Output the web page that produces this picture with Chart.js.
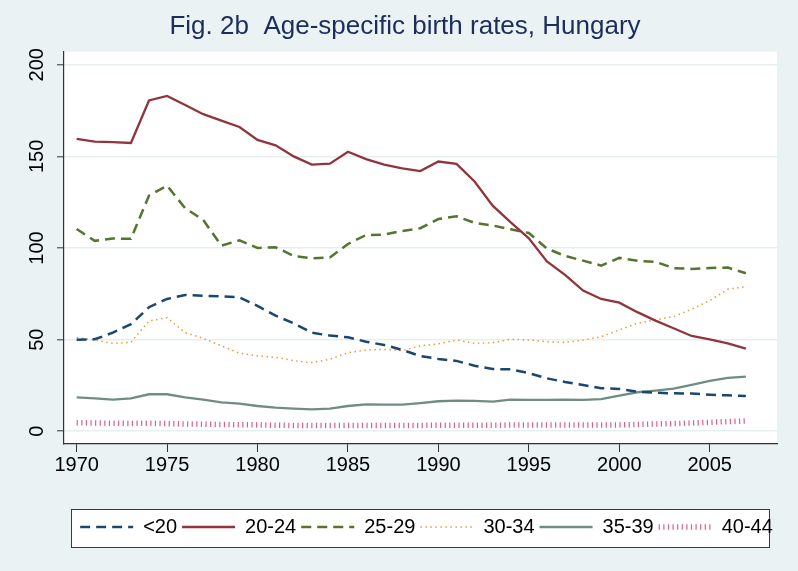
<!DOCTYPE html>
<html>
<head>
<meta charset="utf-8">
<script src="https://cdn.jsdelivr.net/npm/chart.js@4/dist/chart.umd.min.js"></script>
<style>
  html, body { margin: 0; padding: 0; background: #eaf2f3; }
  #wrap { width: 798px; height: 571px; }
</style>
</head>
<body>
<div id="wrap"><canvas id="c" width="798" height="571"></canvas></div>
<script>
const years = [1970,1971,1972,1973,1974,1975,1976,1977,1978,1979,
               1980,1981,1982,1983,1984,1985,1986,1987,1988,1989,
               1990,1991,1992,1993,1994,1995,1996,1997,1998,1999,
               2000,2001,2002,2003,2004,2005,2006,2007];
const seriesNames = ['<20','20-24','25-29','30-34','35-39','40-44'];
const ageUnder20 = [50.0,50.2,53.8,58.4,67.7,72.2,74.4,74.0,73.6,73.1,
                    68.4,63.1,58.9,53.8,52.2,51.3,48.9,47.1,44.4,41.1,
                    39.5,38.4,35.8,34.0,33.8,31.7,28.9,26.9,25.3,23.5,
                    23.1,21.6,21.1,20.7,20.6,20.0,19.6,19.3];
const age20to24 = [159.5,158.0,157.8,157.3,180.5,183.0,178.0,173.0,169.5,166.0,
                   159.0,156.0,150.0,145.5,146.0,152.5,148.5,145.5,143.5,142.0,
                   147.2,145.9,136.3,123.1,114.0,105.3,92.7,85.3,76.8,72.2,
                   70.2,65.0,60.4,56.2,52.0,50.2,48.0,45.1];
const age25to29 = [110.4,103.9,105.2,105.0,128.6,134.0,121.7,115.3,101.3,104.2,
                   100.0,100.4,95.7,94.4,94.8,102.2,107.1,107.3,109.3,110.8,
                   115.8,117.3,113.7,112.3,110.2,108.2,99.7,95.7,93.1,90.4,
                   94.6,93.0,92.5,89.0,88.6,89.1,89.3,86.2];
const age30to34 = [51.1,49.8,48.0,48.5,60.2,62.0,53.8,50.7,46.6,42.6,
                   41.1,40.4,38.5,37.5,39.3,42.9,44.4,44.7,44.0,46.6,
                   47.7,49.8,48.0,48.4,50.2,49.8,48.9,48.5,49.8,51.6,
                   55.3,58.9,60.8,62.6,66.6,71.3,77.5,78.9];
const age35to39 = [18.5,18.0,17.3,18.0,20.2,20.2,18.5,17.3,15.8,15.1,
                   13.8,12.9,12.4,12.0,12.4,13.8,14.7,14.5,14.5,15.4,
                   16.4,16.7,16.6,16.2,17.3,17.1,17.1,17.3,17.1,17.6,
                   19.4,21.3,22.2,23.3,25.3,27.5,29.1,29.8];
const age40to44 = [4.7,4.5,4.4,4.3,4.4,4.2,4.0,3.9,3.7,3.6,
                   3.5,3.3,3.2,3.1,3.1,3.2,3.2,3.2,3.2,3.2,
                   3.3,3.3,3.3,3.3,3.4,3.4,3.4,3.4,3.4,3.4,
                   3.5,3.7,4.0,4.2,4.5,4.9,5.3,5.6];
const xTickValues = [1970,1975,1980,1985,1990,1995,2000,2005];
const yTickValues = [0,50,100,150,200];
const titleText = 'Fig. 2b  Age-specific birth rates, Hungary';

const FONT = '"Liberation Sans", Arial, Helvetica, sans-serif';
const toPts = arr => years.map((yr, i) => ({x: yr, y: arr[i]}));

const styles = [
  {color:'#1a476f', width:2.5, dash:[10,6]},
  {color:'#90353b', width:2.3, dash:[]},
  {color:'#55752f', width:2.5, dash:[10,6]},
  {color:'#eb9a3c', width:1.5, dash:[1.5,3.5]},
  {color:'#6e8e84', width:2.3, dash:[]},
  {color:'rgba(200,30,80,0.7)', width:5.5, dash:[1.2,3.4]}
];
const allSeries = [ageUnder20, age20to24, age25to29, age30to34, age35to39, age40to44];

const datasets = allSeries.map((arr, i) => ({
  label: seriesNames[i],
  data: toPts(arr),
  borderColor: styles[i].color,
  backgroundColor: styles[i].color,
  borderWidth: styles[i].width,
  borderDash: styles[i].dash,
  borderCapStyle: 'butt',
  pointRadius: 0,
  pointHoverRadius: 0,
  tension: 0,
  fill: false
}));

const bgPlugin = {
  id: 'bgPlugin',
  beforeDraw(chart) {
    const {ctx, chartArea: a, legend} = chart;
    ctx.save();
    ctx.fillStyle = '#eaf2f3';
    ctx.fillRect(0, 0, chart.width, chart.height);
    ctx.fillStyle = '#ffffff';
    ctx.fillRect(a.left, a.top, a.right - a.left, a.bottom - a.top);
    const lx = a.left + 7, rx = a.right - 8, ty = legend.top - 3, by = legend.bottom;
    ctx.fillRect(lx, ty, rx - lx, by - ty);
    ctx.strokeStyle = '#3a3a3a';
    ctx.lineWidth = 1;
    ctx.strokeRect(Math.round(lx) + 0.5, Math.round(ty) + 0.5, Math.round(rx - lx), Math.round(by - ty));
    ctx.restore();
  }
};
const legendShift = {
  id: 'legendShift',
  afterLayout(chart) {
    chart.legend.left += 6;
    chart.legend.right += 6;
  }
};

new Chart(document.getElementById('c'), {
  type: 'line',
  data: { datasets },
  plugins: [bgPlugin, legendShift],
  options: {
    responsive: false,
    animation: false,
    events: [],
    layout: { padding: { left: 12, right: 0, top: 0, bottom: 24 } },
    plugins: {
      title: {
        display: true,
        text: titleText,
        color: '#1c2d5a',
        font: { family: FONT, size: 26, weight: 'normal' },
        padding: { top: 11, bottom: 9.5 }
      },
      legend: {
        display: true,
        position: 'bottom',
        fullSize: false,
        labels: {
          usePointStyle: true,
          pointStyle: 'line',
          pointStyleWidth: 53,
          boxHeight: 20,
          padding: 5,
          color: '#000',
          font: { family: FONT, size: 20 },
          generateLabels: chart => chart.data.datasets.map((ds, i) => ({
            text: ds.label,
            fillStyle: 'rgba(0,0,0,0)',
            strokeStyle: ds.borderColor,
            lineWidth: ds.borderWidth,
            lineDash: ds.borderDash,
            lineDashOffset: 0,
            lineCap: 'butt',
            lineJoin: 'miter',
            pointStyle: 'line',
            fontColor: '#000',
            hidden: false,
            datasetIndex: i
          }))
        }
      },
      tooltip: { enabled: false }
    },
    scales: {
      x: {
        type: 'linear',
        min: 1969.3,
        max: 2008.72,
        afterBuildTicks: s => { s.ticks = xTickValues.map(v => ({value: v})); },
        afterFit: s => { s.height = 68; },
        grid: { display: true, drawOnChartArea: false, drawTicks: true, tickLength: 8, tickColor: '#333', tickWidth: 1 },
        border: { display: true, color: '#333', width: 1.2 },
        ticks: { color: '#000', font: { family: FONT, size: 20 }, padding: 1, maxRotation: 0, autoSkip: false,
                 callback: v => String(v) }
      },
      y: {
        type: 'linear',
        position: 'left',
        min: -6.93,
        max: 207.1,
        afterBuildTicks: s => { s.ticks = yTickValues.map(v => ({value: v})); },
        afterFit: s => { s.width = 52; },
        grid: { display: true, drawOnChartArea: true, drawTicks: true, tickLength: 7, color: '#e6eff0', lineWidth: 1.6, tickColor: '#333', tickWidth: 1 },
        border: { display: true, color: '#333', width: 1.2 },
        ticks: { color: '#000', font: { family: FONT, size: 20 }, padding: 3, minRotation: 90, maxRotation: 90, crossAlign: 'center', autoSkip: false,
                 callback: v => String(v) }
      },
      yR: {
        type: 'linear',
        position: 'right',
        display: true,
        afterFit: s => { s.width = 21; },
        grid: { display: false },
        border: { display: false },
        ticks: { display: false }
      }
    }
  }
});
</script>
</body>
</html>
